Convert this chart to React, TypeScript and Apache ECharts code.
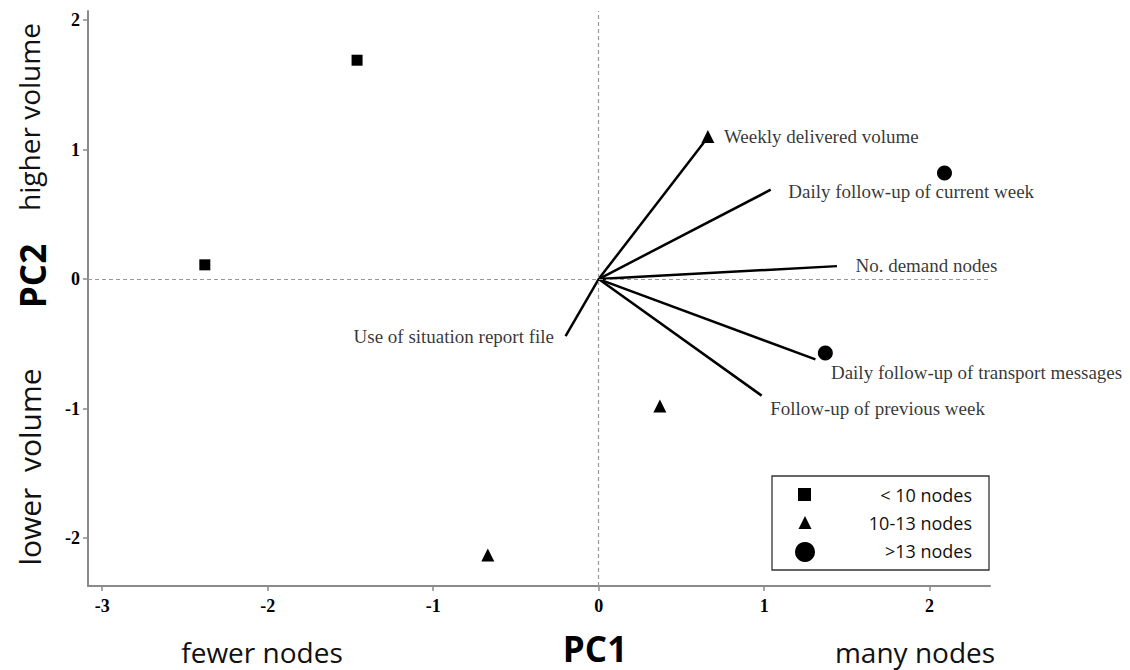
import React, { useEffect, useRef } from "react";
import * as echarts from "echarts";

// Scores (PC1, PC2) by group
const lessThan10: [number, number][] = [
  [-1.46, 1.69],
  [-2.38, 0.11],
];
const from10to13: [number, number][] = [
  [0.66, 1.1],
  [0.37, -0.98],
  [-0.67, -2.13],
];
const moreThan13: [number, number][] = [
  [2.09, 0.82],
  [1.37, -0.57],
];

// Loading vectors
const vectorNames = [
  "Weekly delivered volume",
  "Daily follow-up of current week",
  "No. demand nodes",
  "Use of situation report file",
  "Daily follow-up of transport messages",
  "Follow-up of previous week",
];
const vectorEnds: [number, number][] = [
  [0.645, 1.07],
  [1.04, 0.69],
  [1.44, 0.1],
  [-0.2, -0.44],
  [1.31, -0.62],
  [0.985, -0.9],
];

const xTicks = [-3, -2, -1, 0, 1, 2];
const yTicks = [-2, -1, 0, 1, 2];
const legendNames = ["< 10 nodes", "10-13 nodes", ">13 nodes"];

// label placement (style only)
const labelPlacement: { pos: string; off: [number, number] }[] = [
  { pos: "right", off: [18, -4] },
  { pos: "right", off: [17, 2] },
  { pos: "right", off: [18, -1] },
  { pos: "left", off: [-11, 0] },
  { pos: "right", off: [15, 13] },
  { pos: "right", off: [8, 13] },
];

const SERIF = "'Liberation Serif', 'DejaVu Serif', serif";
const SANS = "'Open Sans', 'Noto Sans', sans-serif";
const AX = "#8a8a8a";

export default function App() {
  const ref = useRef<HTMLDivElement>(null);
  useEffect(() => {
    if (!ref.current) return;
    const chart = echarts.init(ref.current, null, { renderer: "svg" });

    const vectorSeries = vectorEnds.map((end, i) => ({
      type: "line",
      name: vectorNames[i],
      data: [[0, 0], end],
      symbol: "none",
      silent: true,
      lineStyle: { color: "#000", width: 2.5 },
      z: 3,
    }));

    const sideText = (text: string, x: number, y: number, extra: any = {}) => ({
      type: "text",
      x,
      y,
      ...extra,
      style: {
        text,
        align: "center",
        verticalAlign: "middle",
        fontFamily: SANS,
        fontSize: 28,
        fill: "#111",
        ...(extra.style || {}),
      },
    });

    const option: any = {
      animation: false,
      backgroundColor: "#fff",
      grid: { left: 88, right: 140, top: 11, bottom: 84, containLabel: false },
      xAxis: {
        type: "value",
        min: -3.086,
        max: 2.365,
        axisLine: { show: true, onZero: false, lineStyle: { color: AX, width: 2 } },
        axisTick: { show: true, length: 5, lineStyle: { color: AX, width: 1.5 }, customValues: xTicks },
        axisLabel: {
          customValues: xTicks,
          margin: 11,
          fontFamily: SERIF,
          fontWeight: "bold",
          fontSize: 18,
          color: "#000",
        },
        splitLine: { show: false },
      },
      yAxis: {
        type: "value",
        min: -2.37,
        max: 2.07,
        axisLine: { show: true, onZero: false, lineStyle: { color: AX, width: 2 } },
        axisTick: { show: true, length: 5, lineStyle: { color: AX, width: 1.5 }, customValues: yTicks },
        axisLabel: {
          customValues: yTicks,
          margin: 8,
          fontFamily: SERIF,
          fontWeight: "bold",
          fontSize: 18,
          color: "#000",
        },
        splitLine: { show: false },
      },
      series: [
        ...vectorSeries,
        {
          type: "scatter",
          name: "vector labels",
          data: vectorEnds.map((e, i) => ({
            value: e,
            name: vectorNames[i],
            label: {
              show: true,
              position: labelPlacement[i].pos,
              distance: 0,
              offset: labelPlacement[i].off,
            },
          })),
          symbolSize: 1,
          itemStyle: { color: "rgba(0,0,0,0)" },
          label: {
            formatter: "{b}",
            fontFamily: SERIF,
            fontSize: 19,
            color: "#000",
          },
          silent: true,
          z: 4,
          markLine: {
            silent: true,
            symbol: "none",
            label: { show: false },
            lineStyle: { color: "#999", type: [4, 3], width: 1.2 },
            data: [{ xAxis: 0 }, { yAxis: 0 }],
          },
        },
        {
          type: "scatter",
          name: legendNames[0],
          data: lessThan10,
          symbol: "rect",
          symbolSize: 11,
          itemStyle: { color: "#000", opacity: 1 },
          z: 5,
        },
        {
          type: "scatter",
          name: legendNames[1],
          data: from10to13,
          symbol: "triangle",
          symbolSize: 13,
          itemStyle: { color: "#000", opacity: 1 },
          z: 5,
        },
        {
          type: "scatter",
          name: legendNames[2],
          data: moreThan13,
          symbol: "circle",
          symbolSize: 15,
          itemStyle: { color: "#000", opacity: 1 },
          z: 5,
        },
      ],
      graphic: [
        // legend box
        {
          type: "rect",
          shape: { x: 772, y: 476, width: 217, height: 94 },
          style: { fill: "#fff", stroke: "#333", lineWidth: 1.3 },
          z: 10,
        },
        { type: "rect", shape: { x: 798, y: 488, width: 13, height: 13 }, style: { fill: "#000" }, z: 11 },
        {
          type: "polygon",
          shape: { points: [[805, 516], [798.5, 529], [811.5, 529]] },
          style: { fill: "#000" },
          z: 11,
        },
        { type: "circle", shape: { cx: 805, cy: 552, r: 10 }, style: { fill: "#000" }, z: 11 },
        ...legendNames.map((n, i) => ({
          type: "text",
          x: 972,
          y: [495, 523, 551][i],
          style: {
            text: n,
            align: "right",
            verticalAlign: "middle",
            fontFamily: SANS,
            fontSize: 18,
            fill: "#111",
          },
          z: 11,
        })),
        // axis titles
        sideText("PC1", 595, 648, { style: { fontSize: 35, fontWeight: "bold", fill: "#000" } }),
        sideText("PC2", 32, 276, { rotation: Math.PI / 2, style: { fontSize: 35, fontWeight: "bold", fill: "#000" } }),
        // direction annotations
        sideText("fewer nodes", 262, 652),
        sideText("many nodes", 915, 652),
        sideText("higher volume", 29, 117, { rotation: Math.PI / 2 }),
        sideText("lower  volume", 29, 467, { rotation: Math.PI / 2, style: { fontSize: 30 } }),
      ],
    };
    chart.setOption(option);
    return () => chart.dispose();
  }, []);
  return <div ref={ref} style={{ width: 1130, height: 670, position: "absolute", left: 0, top: 0 }} />;
}
